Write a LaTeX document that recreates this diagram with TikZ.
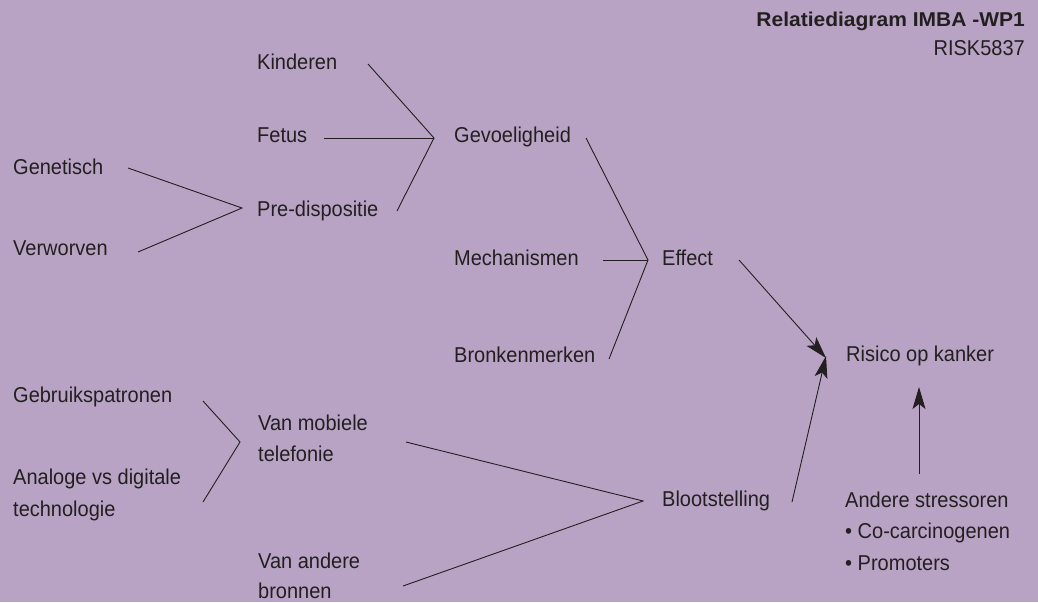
\documentclass[tikz,border=0pt]{standalone}
\usepackage{fontspec}
\setmainfont{Liberation Sans}[FakeStretch=0.93]
\newfontfamily\titlefont{Liberation Sans}[FakeStretch=1.05]
\usetikzlibrary{arrows.meta}
\definecolor{bgpurple}{RGB}{185,163,197}
\definecolor{ink}{RGB}{35,31,32}

\begin{document}
\begin{tikzpicture}[x=1pt,y=-1pt,
  lbl/.style={anchor=base west, inner sep=0pt, text=ink, font=\fontsize{21.5}{31}\selectfont},
  hdr/.style={anchor=base east, inner sep=0pt, text=ink},
  link/.style={draw=ink, line width=0.9pt, line join=miter},
  arr/.style={link, -{Stealth[length=22pt,width=13pt,inset=5pt]}}]

% background
\fill[bgpurple] (0,0) rectangle (1038,602);
\useasboundingbox (0,0) rectangle (1038,602);

% header
\node[hdr, font=\titlefont\bfseries\fontsize{20}{24}\selectfont] (title) at (1025,27) {Relatiediagram IMBA -WP1};
\node[hdr, font=\fontsize{21.5}{24}\selectfont] (code) at (1025,56) {RISK5837};

% labels
\node[lbl] (kin)  at (257,70)  {Kinderen};
\node[lbl] (fet)  at (257,142) {Fetus};
\node[lbl] (pre)  at (257,216) {Pre-dispositie};
\node[lbl] (gen)  at (13,174)  {Genetisch};
\node[lbl] (ver)  at (13,255)  {Verworven};
\node[lbl] (gev)  at (454,142) {Gevoeligheid};
\node[lbl] (mech) at (454,265) {Mechanismen};
\node[lbl] (eff)  at (662,265) {Effect};
\node[lbl] (bron) at (454,362) {Bronkenmerken};
\node[lbl] (risk) at (846,361) {Risico op kanker};
\node[lbl] (geb)  at (13,402)  {Gebruikspatronen};
\node[lbl] (anaA) at (13,484)  {Analoge vs digitale};
\node[lbl] (anaB) at (13,516)  {technologie};
\node[lbl] (mobA) at (258,430) {Van mobiele};
\node[lbl] (mobB) at (258,461) {telefonie};
\node[lbl] (andA) at (258,568) {Van andere};
\node[lbl] (andB) at (258,598) {bronnen};
\node[lbl] (blo)  at (662,506) {Blootstelling};
\node[lbl] (str)  at (845,507) {Andere stressoren};
\node[lbl] (strA) at (845,538) {\textbullet\ Co-carcinogenen};
\node[lbl] (strB) at (845,570) {\textbullet\ Promoters};

% connector ends
\coordinate (jGev)  at (434,138);
\coordinate (jPre)  at (242,208);
\coordinate (jEff)  at (648,260);
\coordinate (jMob)  at (240,442);
\coordinate (jBlo)  at (643,501);
\coordinate (jRisk) at (826,358);
\coordinate (tStr)  at (919,387);

\coordinate (oKin)  at (368,64);
\coordinate (oFet)  at (324,138);
\coordinate (oPre)  at (397,211);
\coordinate (oGen)  at (128,168);
\coordinate (oVer)  at (138,252);
\coordinate (oGev)  at (586,138);
\coordinate (oMech) at (603,260);
\coordinate (oBron) at (609,359);
\coordinate (oEff)  at (739,260);
\coordinate (oGeb)  at (203,401);
\coordinate (oAna)  at (203,502);
\coordinate (oMob)  at (406,442);
\coordinate (oAnd)  at (403,586);
\coordinate (oBlo)  at (792,502);
\coordinate (oStr)  at (919,474);

% converging connectors
\draw[link] (oKin) -- (jGev) -- (oPre);
\draw[link] (oFet) -- (jGev);
\draw[link] (oGen) -- (jPre) -- (oVer);
\draw[link] (oGev) -- (jEff) -- (oBron);
\draw[link] (oMech) -- (jEff);
\draw[link] (oGeb) -- (jMob) -- (oAna);
\draw[link] (oMob) -- (jBlo) -- (oAnd);

% arrows into the risk node
\draw[arr] (oEff) -- (jRisk);
\draw[arr] (oBlo) -- ([yshift=2pt]jRisk);
\draw[arr] (oStr) -- (tStr);
\end{tikzpicture}
\end{document}
